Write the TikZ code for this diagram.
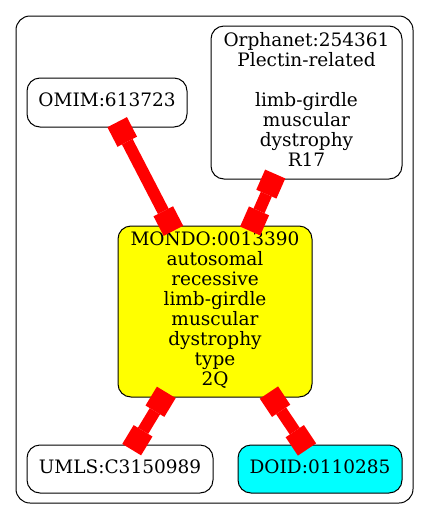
\documentclass[tikz,border=0pt]{standalone}
\usepackage{fontspec}
\setmainfont{DejaVu Serif}
\usetikzlibrary{arrows.meta}
\definecolor{gvyellow}{RGB}{255,255,0}
\definecolor{gvcyan}{RGB}{0,255,255}
\definecolor{gvred}{RGB}{255,0,0}
\newcommand\nodetext[1]{\begin{tabular}{@{}c@{}}#1\end{tabular}}
\begin{document}
\begin{tikzpicture}[x=1pt,y=-1pt,
  box/.style={draw=black,line width=1pt,rounded corners=13pt,inner sep=0pt,
    font=\fontsize{18.5}{20}\selectfont},
  boxtip/.tip={Rectangle[length=22pt,width=22pt,line width=0pt]},
  link/.style={draw=gvred,line width=12pt,boxtip-boxtip,
    shorten <=-6pt,shorten >=-6pt}]
\useasboundingbox (0,0) rectangle (429,520);
\draw[line width=1pt,rounded corners=14pt] (16,16) rectangle (413,503);
\node[box,minimum width=160pt,minimum height=49pt] (omim) at (107,102.5)
  {\nodetext{OMIM:613723}};
\node[box,minimum width=191pt,minimum height=153pt] (orpha) at (306.5,102.5)
  {\nodetext{Orphanet:254361\\Plectin-related\\ \\limb-girdle\\muscular\\dystrophy\\R17}};
\node[box,fill=gvyellow,minimum width=194pt,minimum height=171pt] (mondo) at (215,311.5)
  {\nodetext{MONDO:0013390\\autosomal\\recessive\\limb-girdle\\muscular\\dystrophy\\type\\2Q}};
\node[box,minimum width=186pt,minimum height=48pt] (umls) at (120,469)
  {\nodetext{UMLS:C3150989}};
\node[box,fill=gvcyan,minimum width=164pt,minimum height=48pt] (doid) at (320,469)
  {\nodetext{DOID:0110285}};
\draw[link] (omim) -- (mondo);
\draw[link] (orpha) -- (mondo);
\draw[link] (mondo) -- (umls);
\draw[link] (mondo) -- (doid);
\end{tikzpicture}
\end{document}
